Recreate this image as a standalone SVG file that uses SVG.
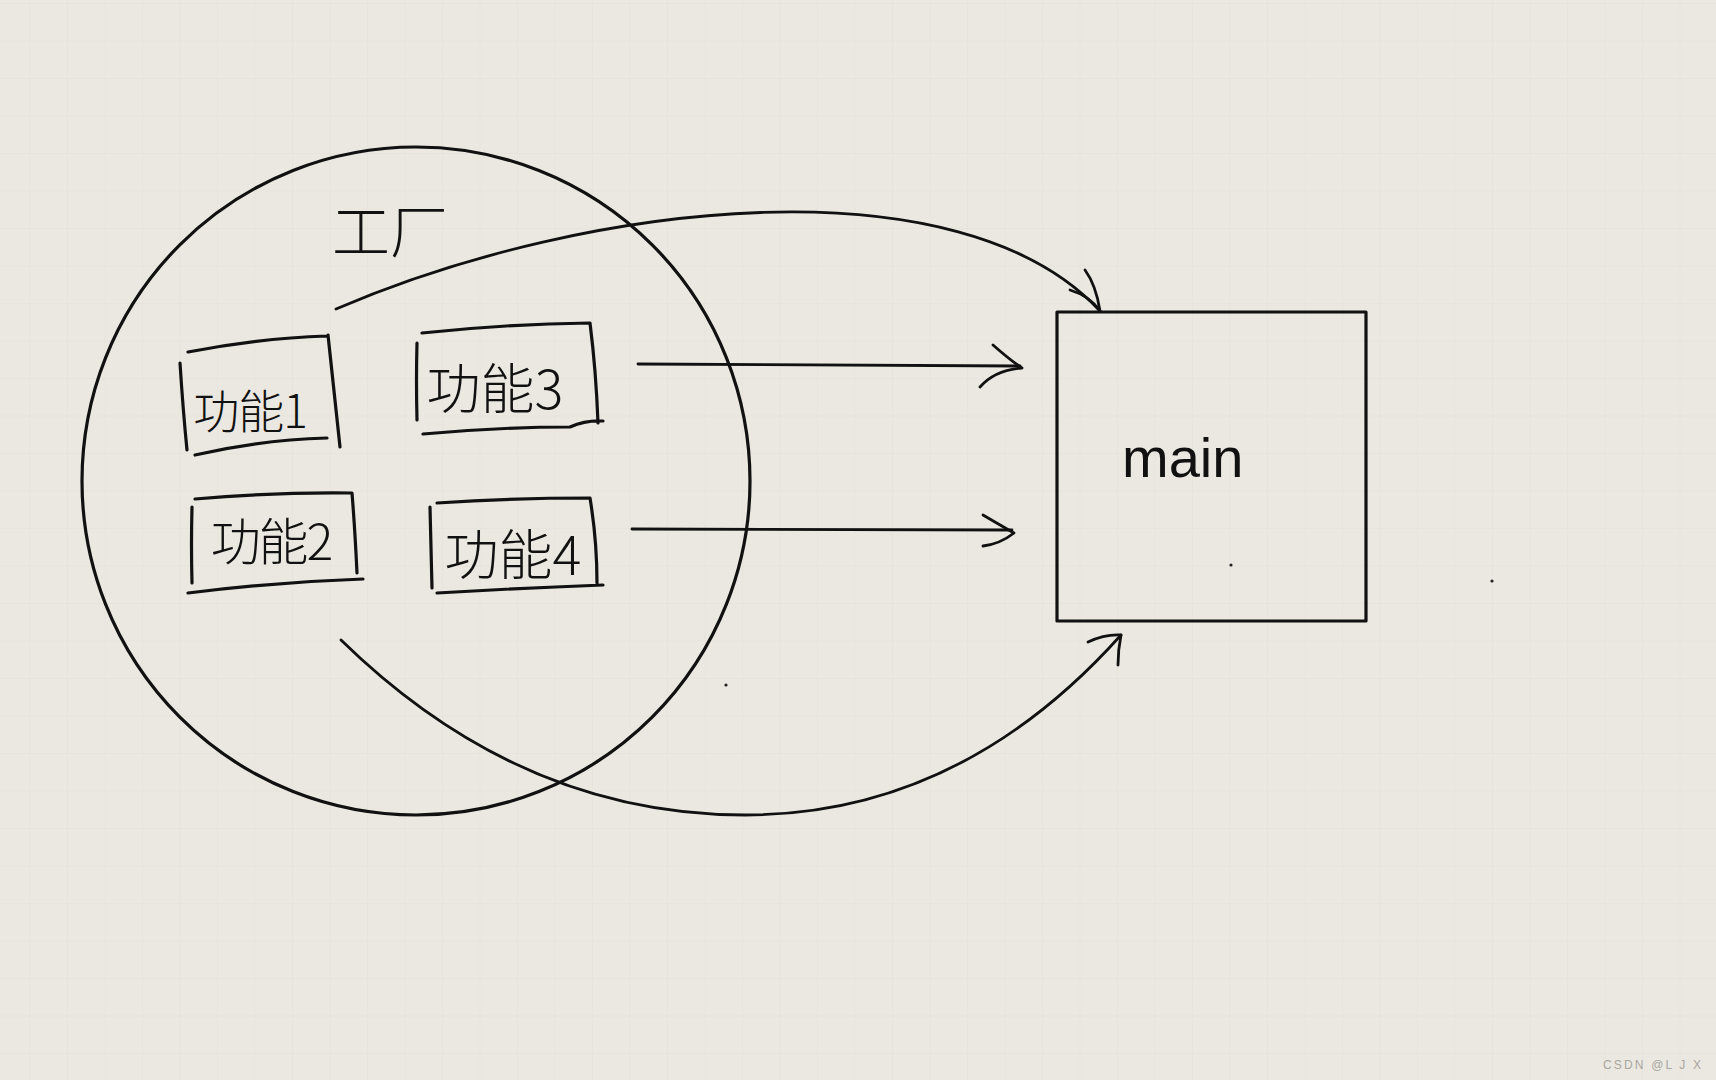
<svg xmlns="http://www.w3.org/2000/svg" width="1716" height="1080" viewBox="0 0 1716 1080">
<defs>
<pattern id="grid" x="29.5" y="3" width="37.5" height="37.5" patternUnits="userSpaceOnUse">
  <path d="M0,0 H37.5 M0,0 V37.5" fill="none" stroke="#e4e0d9" stroke-width="1"/>
</pattern>
</defs>
<style>
.ink{fill:none;stroke:#111;stroke-linecap:round;stroke-linejoin:round}
.hand{font-family:"Noto Sans CJK SC","Noto Sans",sans-serif;fill:#111;text-anchor:middle}
</style>
<rect width="1716" height="1080" fill="#ebe8e1"/>
<rect width="1716" height="1080" fill="url(#grid)"/>
<g id="factory">
  <circle class="ink" cx="416" cy="481" r="334" stroke-width="3.2"/>
  <text class="hand" x="390" y="253" font-size="58" font-weight="300">工厂</text>
</g>
<g id="func1">
  <path class="ink" stroke-width="3.2" d="M188,352 Q260,338 327,336 M328,335 Q334,390 340,447 M195,455 Q260,440 327,438 M180,363 Q183,410 187,450"/>
  <text class="hand" x="250" y="428" font-size="46" font-weight="300" letter-spacing="-1">功能1</text>
</g>
<g id="func3">
  <path class="ink" stroke-width="3.2" d="M422,333 Q505,324 590,323 Q596,370 598,423 M417,343 Q416,380 417,420 M423,434 Q500,427 570,427 Q586,420 603,421"/>
  <text class="hand" x="495" y="409" font-size="54" font-weight="300">功能3</text>
</g>
<g id="func2">
  <path class="ink" stroke-width="3.2" d="M195,499 Q275,492 352,493 Q355,530 357,573 M192,507 Q191,545 192,583 M188,593 Q275,582 363,579"/>
  <text class="hand" x="271" y="560" font-size="50" font-weight="300" letter-spacing="-2">功能2</text>
</g>
<g id="func4">
  <path class="ink" stroke-width="3.2" d="M437,503 Q515,498 590,498 Q597,540 597,583 M430,507 Q431,548 432,588 M437,593 Q520,588 603,585"/>
  <text class="hand" x="513" y="575" font-size="54" font-weight="300">功能4</text>
</g>
<g id="main">
  <rect class="ink" x="1057" y="312" width="309" height="309" stroke-width="3.2"/>
  <text x="1122" y="477" font-family="'Liberation Sans',Arial,sans-serif" font-size="56" fill="#111">main</text>
</g>
<g id="connectors">
  <path class="ink" stroke-width="2.8" d="M336,309 C590,200 960,160 1100,311"/>
  <path class="ink" stroke-width="2.8" d="M1070,290 Q1090,296 1100,311 Q1096,285 1085,270"/>
  <path class="ink" stroke-width="2.8" d="M638,364 L1020,366"/>
  <path class="ink" stroke-width="2.8" d="M993,345 Q1010,360 1022,368 Q995,370 980,387"/>
  <path class="ink" stroke-width="2.8" d="M632,529 L1012,530"/>
  <path class="ink" stroke-width="2.8" d="M983,515 Q1000,525 1014,533 Q1000,544 983,546"/>
  <path class="ink" stroke-width="2.8" d="M341,640 Q520,815 745,815 Q960,815 1121,635"/>
  <path class="ink" stroke-width="2.8" d="M1088,642 Q1105,634 1121,635 Q1118,650 1118,665"/>
</g>
<g fill="#222">
  <circle cx="726" cy="685" r="1.6"/>
  <circle cx="1231" cy="565" r="1.6"/>
  <circle cx="1492" cy="581" r="1.6"/>
</g>
<text x="1603" y="1069" font-family="'Liberation Sans',Arial,sans-serif" font-size="12" fill="#a9a6a0" textLength="98">CSDN @L  J  X</text>
</svg>
